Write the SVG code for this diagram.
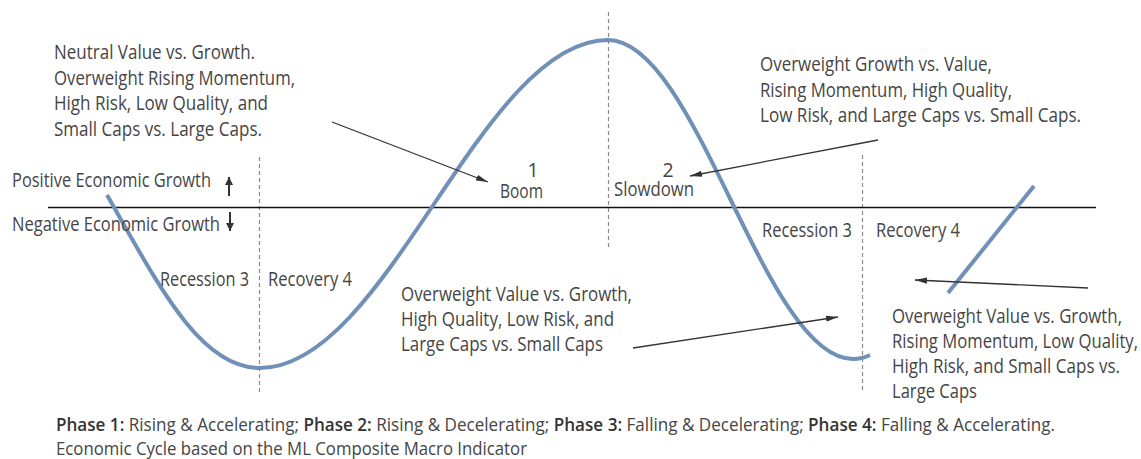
<svg xmlns="http://www.w3.org/2000/svg" width="1141" height="459" viewBox="0 0 1141 459">
  <defs>
    <marker id="tip" markerUnits="userSpaceOnUse" markerWidth="13" markerHeight="8" refX="12" refY="4" orient="auto">
      <path d="M0,0.9 L12,4 L0,7.1 Z" fill="#333"/>
    </marker>
    <marker id="axisTip" markerUnits="userSpaceOnUse" markerWidth="10" markerHeight="10" refX="8" refY="5" orient="auto">
      <path d="M0,1 L8,5 L0,9 Z" fill="#333"/>
    </marker>
    <style>
      text { font-family: "Open Sans", "Noto Sans", "Liberation Sans", sans-serif; font-size: 19.5px; fill: #454545; }
      .cap { font-size: 18px; }
      .b { font-weight: 600; fill: #333; }
      .leader { stroke: #333; stroke-width: 1.3; fill: none; marker-end: url(#tip); }
      .guide { stroke: #8a8a8a; stroke-width: 1.2; stroke-dasharray: 4 3; fill: none; }
      .cycle { stroke: #7090b8; stroke-width: 4; fill: none; stroke-linecap: butt; }
    </style>
  </defs>

  <!-- phase boundaries -->
  <g id="guides">
    <line class="guide" x1="259.5" y1="157" x2="259.5" y2="393"/>
    <line class="guide" x1="608.5" y1="12" x2="608.5" y2="247"/>
    <line class="guide" x1="862.5" y1="155" x2="862.5" y2="390"/>
  </g>

  <!-- zero-growth axis -->
  <line id="axis" x1="48" y1="207.5" x2="1096" y2="207.5" stroke="#111" stroke-width="1.3"/>

  <!-- economic cycle curve -->
  <g id="cycle">
    <path class="cycle" d="M107,195 C157,282 199,368 260,368 C387,368 481,40 608,40 C697,40 764,359 853,359 C859,359 865,357.5 870,355"/>
    <path class="cycle" d="M948,293 L1034,186"/>
  </g>

  <!-- axis labels -->
  <g id="axis-labels">
    <text x="12" y="187" textLength="199" lengthAdjust="spacingAndGlyphs">Positive Economic Growth</text>
    <text x="12" y="231" textLength="208" lengthAdjust="spacingAndGlyphs">Negative Economic Growth</text>
    <line x1="229" y1="196" x2="229" y2="177" stroke="#333" stroke-width="2" marker-end="url(#axisTip)"/>
    <line x1="230" y1="212" x2="230" y2="231" stroke="#333" stroke-width="2" marker-end="url(#axisTip)"/>
  </g>

  <!-- phase names -->
  <g id="phase-boom">
    <text x="533" y="177" text-anchor="middle">1</text>
    <text x="500" y="198" textLength="43" lengthAdjust="spacingAndGlyphs">Boom</text>
  </g>
  <g id="phase-slowdown">
    <text x="668" y="177" text-anchor="middle">2</text>
    <text x="614" y="196" textLength="80" lengthAdjust="spacingAndGlyphs">Slowdown</text>
  </g>
  <g id="phase-recession-left">
    <text x="160" y="286" textLength="89" lengthAdjust="spacingAndGlyphs">Recession 3</text>
  </g>
  <g id="phase-recovery-left">
    <text x="268" y="286" textLength="84" lengthAdjust="spacingAndGlyphs">Recovery 4</text>
  </g>
  <g id="phase-recession-right">
    <text x="762" y="237" textLength="90" lengthAdjust="spacingAndGlyphs">Recession 3</text>
  </g>
  <g id="phase-recovery-right">
    <text x="876" y="237" textLength="84" lengthAdjust="spacingAndGlyphs">Recovery 4</text>
  </g>

  <!-- factor notes -->
  <g id="note-boom">
    <text x="54" y="59" textLength="201" lengthAdjust="spacingAndGlyphs">Neutral Value vs. Growth.</text>
    <text x="54" y="85" textLength="241" lengthAdjust="spacingAndGlyphs">Overweight Rising Momentum,</text>
    <text x="54" y="110" textLength="214" lengthAdjust="spacingAndGlyphs">High Risk, Low Quality, and</text>
    <text x="54" y="136" textLength="208" lengthAdjust="spacingAndGlyphs">Small Caps vs. Large Caps.</text>
  </g>
  <g id="note-slowdown">
    <text x="760" y="71" textLength="232" lengthAdjust="spacingAndGlyphs">Overweight Growth vs. Value,</text>
    <text x="760" y="97" textLength="252" lengthAdjust="spacingAndGlyphs">Rising Momentum, High Quality,</text>
    <text x="760" y="122" textLength="321" lengthAdjust="spacingAndGlyphs">Low Risk, and Large Caps vs. Small Caps.</text>
  </g>
  <g id="note-recession">
    <text x="401" y="301" textLength="231" lengthAdjust="spacingAndGlyphs">Overweight Value vs. Growth,</text>
    <text x="401" y="326" textLength="213" lengthAdjust="spacingAndGlyphs">High Quality, Low Risk, and</text>
    <text x="401" y="351" textLength="202" lengthAdjust="spacingAndGlyphs">Large Caps vs. Small Caps</text>
  </g>
  <g id="note-recovery">
    <text x="892" y="323" textLength="230" lengthAdjust="spacingAndGlyphs">Overweight Value vs. Growth,</text>
    <text x="892" y="348" textLength="246" lengthAdjust="spacingAndGlyphs">Rising Momentum, Low Quality,</text>
    <text x="892" y="373" textLength="228" lengthAdjust="spacingAndGlyphs">High Risk, and Small Caps vs.</text>
    <text x="892" y="398" textLength="85" lengthAdjust="spacingAndGlyphs">Large Caps</text>
  </g>

  <!-- leaders from notes to phases -->
  <g id="connectors">
    <line class="leader" x1="332" y1="122" x2="488" y2="182"/>
    <line class="leader" x1="878" y1="140" x2="690" y2="176"/>
    <line class="leader" x1="633" y1="348" x2="838" y2="317"/>
    <line class="leader" x1="1088" y1="288" x2="915" y2="280"/>
  </g>

  <!-- caption -->
  <g id="caption">
    <text class="cap" x="56" y="431" textLength="999" lengthAdjust="spacingAndGlyphs"><tspan class="b">Phase 1:</tspan> Rising &amp; Accelerating; <tspan class="b">Phase 2:</tspan> Rising &amp; Decelerating; <tspan class="b">Phase 3:</tspan> Falling &amp; Decelerating; <tspan class="b">Phase 4:</tspan> Falling &amp; Accelerating.</text>
    <text class="cap" x="56" y="455" textLength="471" lengthAdjust="spacingAndGlyphs">Economic Cycle based on the ML Composite Macro Indicator</text>
  </g>
</svg>
